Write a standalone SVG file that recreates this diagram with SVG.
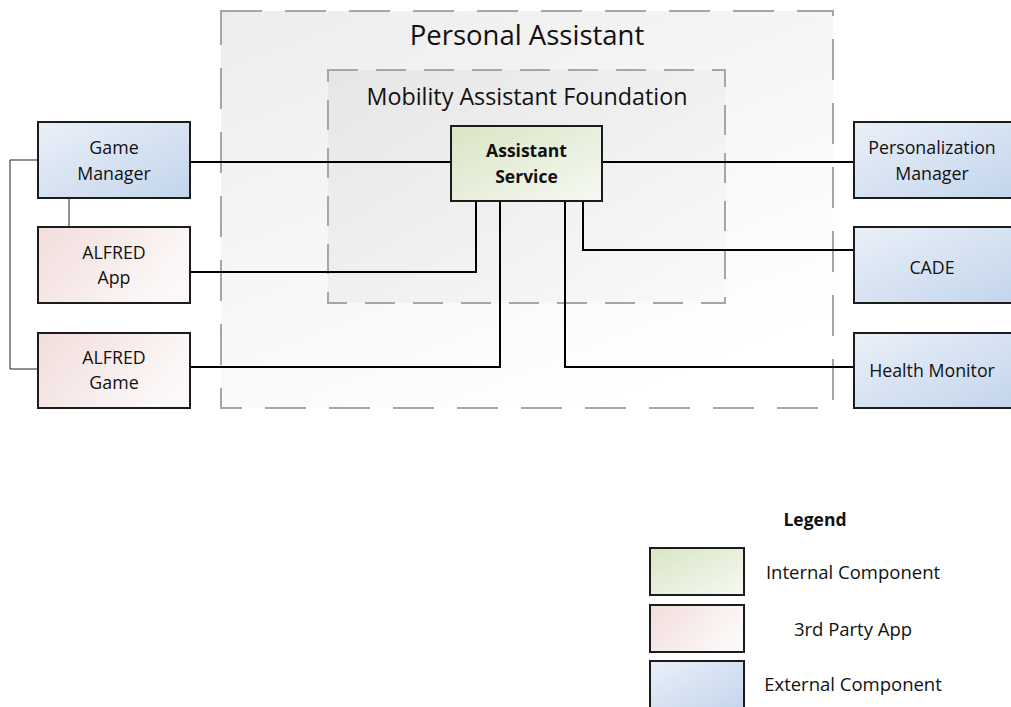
<svg xmlns="http://www.w3.org/2000/svg" width="1011" height="707" viewBox="0 0 1011 707">
<defs>
<linearGradient id="gBlue" x1="0" y1="0" x2="1" y2="1">
<stop offset="0" stop-color="#eaf0f8"/><stop offset="1" stop-color="#c3d5ec"/>
</linearGradient>
<linearGradient id="gPink" x1="0" y1="0" x2="1" y2="0.4">
<stop offset="0" stop-color="#f2dddc"/><stop offset="1" stop-color="#fcf8f8"/>
</linearGradient>
<linearGradient id="gGreen" x1="0" y1="0" x2="1" y2="1">
<stop offset="0" stop-color="#d9e5c5"/><stop offset="1" stop-color="#f6f9f2"/>
</linearGradient>
<linearGradient id="gOuter" x1="0" y1="0" x2="0.6" y2="1">
<stop offset="0" stop-color="#ededed"/><stop offset="1" stop-color="#ffffff"/>
</linearGradient>
<linearGradient id="gInner" x1="0" y1="0" x2="1" y2="1">
<stop offset="0" stop-color="#e6e6e6"/><stop offset="1" stop-color="#fafafa"/>
</linearGradient>
</defs>
<style>
.box{stroke:#1c1c1c;stroke-width:2}
.blue{fill:url(#gBlue)}
.pink{fill:url(#gPink)}
.green{fill:url(#gGreen)}
.cont{stroke:#a6a6a6;stroke-width:2;stroke-dasharray:41 23}
.cont2{stroke:#a6a6a6;stroke-width:2;stroke-dasharray:30 18}
text{font-family:"Open Sans","Liberation Sans",sans-serif;fill:#111;text-anchor:middle}
.t{font-size:17.8px}
.b{font-size:17.5px;font-weight:bold}
.lg{font-size:18.5px}
.conn{fill:none;stroke:#000;stroke-width:2}
.thin{fill:none;stroke:#222;stroke-width:1}
</style>
<rect width="1011" height="707" fill="#fff"/>
<g id="personal-assistant">
<rect x="221" y="11" width="612" height="397" fill="url(#gOuter)" class="cont"/>
<text x="527" y="45" style="font-size:27.5px">Personal Assistant</text>
</g>
<g id="mobility-assistant-foundation">
<rect x="328" y="70" width="397" height="233" fill="url(#gInner)" class="cont2"/>
<text x="527" y="105" style="font-size:23.3px">Mobility Assistant Foundation</text>
</g>
<g id="connectors">
<path class="conn" d="M190 162H451"/>
<path class="conn" d="M190 272H476V201"/>
<path class="conn" d="M190 367H500V201"/>
<path class="conn" d="M602 162H854"/>
<path class="conn" d="M583 201V250H854"/>
<path class="conn" d="M565 201V367H854"/>
<path class="thin" d="M38 160H10V369H38"/>
<path class="thin" d="M69 198V227"/>
</g>
<g id="assistant-service">
<rect x="451" y="126" width="151" height="75" class="box green"/>
<text x="526.5" y="157" class="b">Assistant</text>
<text x="526.5" y="183" class="b">Service</text>
</g>
<g id="game-manager">
<rect x="38" y="122" width="152" height="76" class="box blue"/>
<text x="114" y="154" class="t">Game</text>
<text x="114" y="180" class="t">Manager</text>
</g>
<g id="alfred-app">
<rect x="38" y="227" width="152" height="76" class="box pink"/>
<text x="114" y="259" class="t">ALFRED</text>
<text x="114" y="284" class="t">App</text>
</g>
<g id="alfred-game">
<rect x="38" y="333" width="152" height="75" class="box pink"/>
<text x="114" y="364" class="t">ALFRED</text>
<text x="114" y="389" class="t">Game</text>
</g>
<g id="personalization-manager">
<rect x="854" y="122" width="160" height="76" class="box blue"/>
<text x="932" y="154" class="t">Personalization</text>
<text x="932" y="180" class="t">Manager</text>
</g>
<g id="cade">
<rect x="854" y="227" width="160" height="76" class="box blue"/>
<text x="932" y="274" class="t">CADE</text>
</g>
<g id="health-monitor">
<rect x="854" y="333" width="160" height="75" class="box blue"/>
<text x="932" y="377" class="t">Health Monitor</text>
</g>
<g id="legend">
<text x="815" y="526" style="font-size:17.5px;font-weight:bold">Legend</text>
<rect x="650" y="548" width="94" height="47" class="box green"/>
<text x="853" y="579" class="lg">Internal Component</text>
<rect x="650" y="605" width="94" height="47" class="box pink"/>
<text x="853" y="636" class="lg">3rd Party App</text>
<rect x="650" y="661" width="94" height="50" class="box blue"/>
<text x="853" y="691" class="lg">External Component</text>
</g>
</svg>
